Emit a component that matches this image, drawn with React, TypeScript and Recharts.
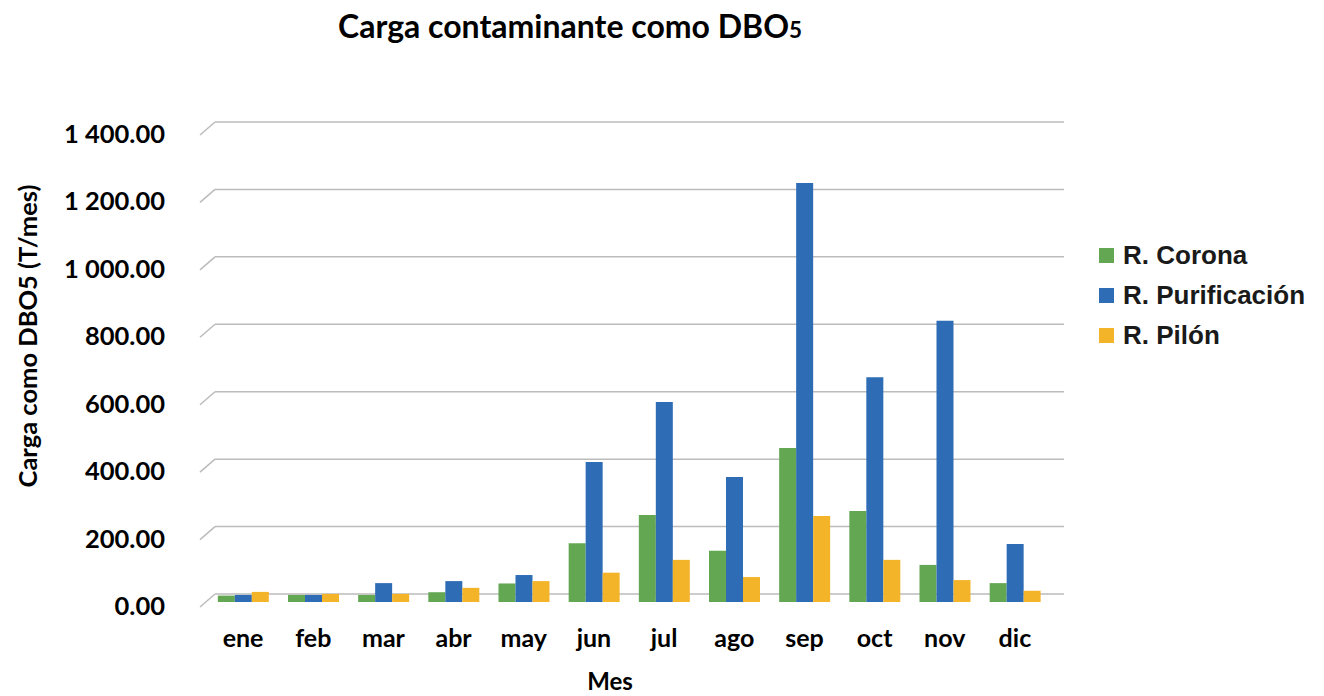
import { BarChart, Bar, XAxis, YAxis, CartesianGrid, Legend } from 'recharts'

// Meses y carga (T/mes)
const months = ['ene', 'feb', 'mar', 'abr', 'may', 'jun', 'jul', 'ago', 'sep', 'oct', 'nov', 'dic']
const corona = [19, 21, 21, 29, 55, 174, 258, 152, 457, 270, 110, 56]
const purificacion = [21, 21, 56, 62, 80, 415, 593, 371, 1243, 667, 834, 172]
const pilon = [30, 24, 24, 42, 62, 87, 125, 74, 255, 125, 65, 33]
const yTicks = [0, 200, 400, 600, 800, 1000, 1200, 1400]

const series = [
  { key: 'corona', name: 'R. Corona', color: '#64a752' },
  { key: 'purificacion', name: 'R. Purificación', color: '#2e6cb5' },
  { key: 'pilon', name: 'R. Pilón', color: '#f4b42a' },
]

const data = months.map((m, i) => ({
  mes: m,
  corona: corona[i],
  purificacion: purificacion[i],
  pilon: pilon[i],
}))

const GRID = '#bdbbbb'
const FONT = 'Lato, "Open Sans", sans-serif'

function fmt(v: number) {
  const [int, dec] = v.toFixed(2).split('.')
  return int.replace(/\B(?=(\d{3})+(?!\d))/g, ' ') + '.' + dec
}

function YTick({ y, payload }: any) {
  return (
    <g>
      <text x={165} y={y + 3} textAnchor="end" dominantBaseline="central" fontFamily={FONT} fontWeight={700} fontSize={25.5} fill="#000">
        {fmt(payload.value)}
      </text>
      <line x1={200} y1={y + 5} x2={215} y2={y - 8} stroke={GRID} strokeWidth={1.5} />
    </g>
  )
}

function XTick({ x, payload }: any) {
  return (
    <text x={x} y={637} textAnchor="middle" dominantBaseline="central" fontFamily={FONT} fontWeight={700} fontSize={25} fill="#000">
      {payload.value}
    </text>
  )
}

// gridlines sit on the back wall, shifted up/right like the 3D original
function GridLine(p: any) {
  return <line key={p.key} x1={p.x1 + 7} x2={p.x2 + 14} y1={p.y1 - 8} y2={p.y2 - 8} stroke={GRID} strokeWidth={1.5} />
}

function LegendBox() {
  return (
    <div style={{ fontFamily: '"Liberation Sans", Arial, sans-serif', fontWeight: 700, fontSize: 26, color: '#1a1a1a' }}>
      {series.map((s) => (
        <div key={s.key} style={{ display: 'flex', alignItems: 'center', height: 40, whiteSpace: 'nowrap' }}>
          <span style={{ width: 15, height: 15, background: s.color, display: 'inline-block', marginRight: 9 }} />
          {s.name}
        </div>
      ))}
    </div>
  )
}

export default function App() {
  return (
    <div style={{ position: 'absolute', left: 0, top: 0, width: 1324, height: 696, background: '#fff' }}>
      <div
        style={{
          position: 'absolute',
          left: 570,
          top: 6,
          transform: 'translateX(-50%)',
          whiteSpace: 'nowrap',
          fontFamily: FONT,
          fontWeight: 700,
          fontSize: 32,
          color: '#000',
        }}
      >
        Carga contaminante como DBO<span style={{ fontSize: '70%' }}>5</span>
      </div>
      <BarChart
        width={1324}
        height={696}
        data={data}
        margin={{ top: 130, right: 274, bottom: 54, left: 0 }}
        barCategoryGap="14%"
        barGap={0}
      >
        <CartesianGrid vertical={false} horizontal={GridLine} />
        <XAxis
          dataKey="mes"
          height={40}
          axisLine={false}
          tickLine={false}
          tick={XTick}
          interval={0}
          label={{
            content: () => (
              <text x={610} y={680} textAnchor="middle" dominantBaseline="central" fontFamily={FONT} fontWeight={700} fontSize={24} fill="#000">
                Mes
              </text>
            ),
          }}
        />
        <YAxis
          width={208}
          domain={[0, 1400]}
          ticks={yTicks}
          interval={0}
          axisLine={false}
          tickLine={false}
          tick={YTick}
          label={{
            content: () => (
              <text x={27} y={336} transform="rotate(-90 27 336)" textAnchor="middle" dominantBaseline="central" fontFamily={FONT} fontWeight={700} fontSize={25.5} fill="#000">
                Carga como DBO5 (T/mes)
              </text>
            ),
          }}
        />
        <Legend
          layout="vertical"
          align="center"
          verticalAlign="middle"
          wrapperStyle={{ left: 1099, top: 235, width: 225 }}
          content={LegendBox}
        />
        {series.map((s) => (
          <Bar key={s.key} dataKey={s.key} name={s.name} fill={s.color} isAnimationActive={false} />
        ))}
      </BarChart>
    </div>
  )
}
